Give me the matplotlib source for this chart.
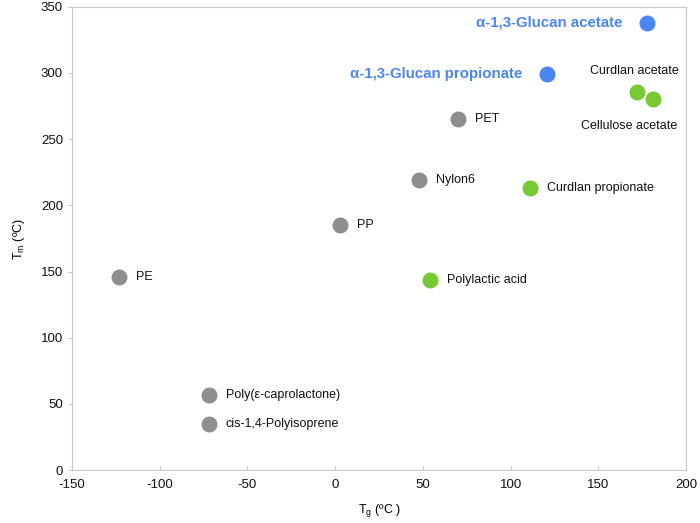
import matplotlib
matplotlib.use("Agg")
import matplotlib.pyplot as plt

plt.rcParams["font.family"] = ["Liberation Sans", "DejaVu Sans"]
plt.rcParams["axes.unicode_minus"] = False
plt.rcParams["mathtext.fontset"] = "custom"
plt.rcParams["mathtext.rm"] = "Liberation Sans"

# polymers: name, Tg, Tm
gray_names = ["PE", "PP", "Nylon6", "PET", "Poly(\u03b5-caprolactone)", "cis-1,4-Polyisoprene"]
gray_tg = [-123, 3, 48, 70, -72, -72]
gray_tm = [146, 185, 219, 265, 57, 35]

green_names = ["Polylactic acid", "Curdlan propionate", "Curdlan acetate", "Cellulose acetate"]
green_tg = [54, 111, 172, 181]
green_tm = [144, 213, 286, 280]

blue_names = ["\u03b1-1,3-Glucan acetate", "\u03b1-1,3-Glucan propionate"]
blue_tg = [178, 121]
blue_tm = [338, 299]

fig = plt.figure(figsize=(7, 5.23), dpi=100)
ax = fig.add_axes([0.103, 0.101, 0.877, 0.886])

ax.scatter(gray_tg, gray_tm, s=110, color="#8e8e8e", zorder=3)
ax.scatter(green_tg, green_tm, s=110, color="#76c932", zorder=3)
ax.scatter(blue_tg, blue_tm, s=110, color="#4a86f0", zorder=3)

for n, x, y in zip(gray_names, gray_tg, gray_tm):
    ax.annotate(n, (x, y), xytext=(12, 0), textcoords="offset points",
                va="center", fontsize=9, color="#111111")

offs = {"Polylactic acid": (12, 0, "left"), "Curdlan propionate": (12, 0, "left"),
        "Curdlan acetate": (-2, 15, "center"), "Cellulose acetate": (-17, -19, "center")}
for n, x, y in zip(green_names, green_tg, green_tm):
    dx, dy, ha = offs[n]
    ax.annotate(n, (x, y), xytext=(dx, dy), textcoords="offset points",
                va="center", ha=ha, fontsize=9, color="#111111")

for n, x, y in zip(blue_names, blue_tg, blue_tm):
    ax.annotate(n, (x, y), xytext=(-18, 0), textcoords="offset points",
                va="center", ha="right", fontsize=10.8, fontweight="bold",
                color="#4a86f0")

ax.set_xlim(-150, 200)
ax.set_ylim(0, 350)
ax.set_xticks(range(-150, 201, 50))
ax.set_yticks(range(0, 351, 50))
for s in ax.spines.values():
    s.set_color("#c8c8c8")
ax.tick_params(colors="#c8c8c8", labelcolor="#111111", labelsize=9.5, length=3)
ax.tick_params(axis="x", direction="in", pad=6)

ax.set_xlabel("T$_\\mathrm{g}$ (\u00baC )", fontsize=9, labelpad=8)
ax.set_ylabel("T$_\\mathrm{m}$ (\u00baC)", fontsize=9, labelpad=10)

fig.savefig("out.png", dpi=100)
